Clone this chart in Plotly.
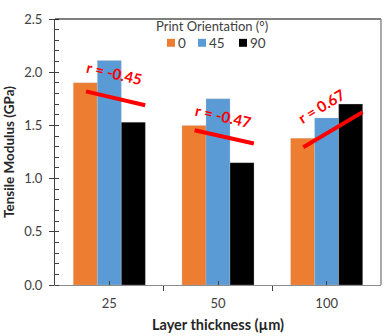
import plotly.graph_objects as go

categories = ["25", "50", "100"]
orientations = ["0", "45", "90"]
modulus_0 = [1.90, 1.50, 1.38]
modulus_45 = [2.11, 1.75, 1.57]
modulus_90 = [1.53, 1.15, 1.70]
colors = ["#ED7D31", "#5B9BD5", "#000000"]

# trend lines per group (start value at 0° bar, end value at 90° bar)
trend_start = [1.82, 1.455, 1.295]
trend_end = [1.69, 1.33, 1.625]
r_values = ["r = -0.45", "r = -0.47", "r = 0.67"]
r_label_y = [1.99, 1.59, 1.68]
r_label_angle = [13, 13, -31]

FONT = "Lato"
W, H = 386, 336
ML, MR, MT, MB = 55, 5, 19, 49
PW, PH = W - ML - MR, H - MT - MB
xpos = list(range(len(categories)))


def px_x(px):
    return (px - ML) / PW


def px_y(py):
    return (H - MB - py) / PH


fig = go.Figure()
for name, vals, c in zip(orientations, [modulus_0, modulus_45, modulus_90], colors):
    fig.add_trace(go.Bar(
        x=xpos, y=vals, name=name, showlegend=False,
        marker=dict(color=c, line=dict(color="rgba(200,200,200,0.6)", width=0.5)),
    ))

for i in xpos:
    fig.add_trace(go.Scatter(
        x=[i - 0.215, i + 0.33], y=[trend_start[i], trend_end[i]],
        mode="lines", line=dict(color="#FF0000", width=4),
        showlegend=False, hoverinfo="skip",
    ))
    fig.add_annotation(
        x=i + 0.05 - (0.1 if i == 2 else 0), y=r_label_y[i], text="<b>" + r_values[i] + "</b>",
        showarrow=False, textangle=r_label_angle[i],
        font=dict(family=FONT, size=15, color="#FF0000"),
    )

# legend (drawn compactly like the original)
fig.add_annotation(
    xref="paper", yref="paper", x=px_x(212), y=px_y(26), text="Print Orientation (°)",
    showarrow=False, xanchor="center", yanchor="middle", borderpad=0,
    font=dict(family=FONT, size=13, color="#404040"),
)
legend_sq_left = [167, 198, 239]
shapes = []
for name, c, lx in zip(orientations, colors, legend_sq_left):
    shapes.append(dict(type="rect", xref="paper", yref="paper",
                       x0=px_x(lx), x1=px_x(lx + 8), y0=px_y(47), y1=px_y(39),
                       fillcolor=c, line=dict(width=0)))
    fig.add_annotation(
        xref="paper", yref="paper", x=px_x(lx + 10), y=px_y(43.5), text=name,
        showarrow=False, xanchor="left", yanchor="middle", borderpad=0,
        font=dict(family=FONT, size=13.5, color="#404040"),
    )

shapes += [
    dict(type="line", xref="paper", yref="paper", x0=0, x1=1, y0=1, y1=1,
         line=dict(color="#000000", width=1.2)),
    dict(type="line", xref="paper", yref="paper", x0=1, x1=1, y0=0, y1=1,
         line=dict(color="#8c8c8c", width=1.5)),
]

fig.update_layout(
    width=W, height=H,
    margin=dict(l=ML, r=MR, t=MT, b=MB),
    paper_bgcolor="white", plot_bgcolor="white",
    barmode="group", bargap=0.337, bargroupgap=0,
    font=dict(family=FONT, color="#404040"),
    showlegend=False,
    xaxis=dict(
        range=[-0.5, 2.5], tickmode="array", tickvals=xpos, ticktext=categories,
        ticks="inside", ticklen=4, tickcolor="#404040",
        minor=dict(tickmode="array", tickvals=[-0.5, 0.5, 1.5, 2.5],
                   ticks="outside", ticklen=5, tickcolor="#404040"),
        showline=True, linecolor="#8c8c8c", linewidth=1.2,
        showgrid=False, zeroline=False, ticklabelstandoff=6,
        tickfont=dict(family=FONT, size=13, color="#404040"),
        title=dict(text="<b>Layer thickness (µm)</b>", standoff=10,
                   font=dict(family=FONT, size=14.5, color="#262626")),
    ),
    yaxis=dict(
        range=[0, 2.5], tickmode="linear", tick0=0, dtick=0.5, tickformat=".1f",
        ticks="outside", ticklen=5, tickcolor="#404040",
        minor=dict(dtick=0.1, ticks="inside", ticklen=4, tickcolor="#404040"),
        showline=True, linecolor="#404040", linewidth=1,
        showgrid=False, zeroline=False, ticklabelstandoff=4,
        tickfont=dict(family=FONT, size=13, color="#404040"),
        title=dict(text="<b>Tensile Modulus (GPa)</b>", standoff=6,
                   font=dict(family=FONT, size=13.5, color="#262626")),
    ),
    shapes=shapes,
)

fig.write_html("out.html")
